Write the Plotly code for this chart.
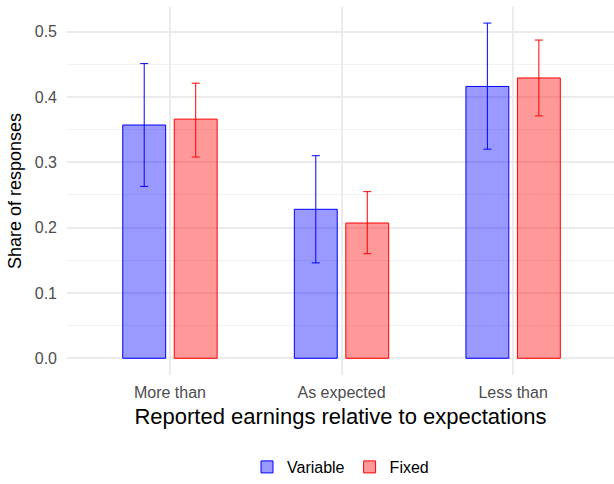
import plotly.graph_objects as go

categories = ["More than", "As expected", "Less than"]
variable_share = [0.357, 0.228, 0.416]
variable_low = [0.263, 0.146, 0.320]
variable_high = [0.451, 0.310, 0.513]
fixed_share = [0.366, 0.207, 0.429]
fixed_low = [0.308, 0.160, 0.371]
fixed_high = [0.421, 0.255, 0.487]
y_ticks = [0.0, 0.1, 0.2, 0.3, 0.4, 0.5]

font_family = "Liberation Sans, Arial, sans-serif"

def err(vals, lo, hi, color):
    return dict(type="data", symmetric=False,
                array=[h - v for v, h in zip(vals, hi)],
                arrayminus=[v - l for v, l in zip(vals, lo)],
                color=color, thickness=1, width=4)

fig = go.Figure()
fig.add_trace(go.Bar(
    x=categories, y=variable_share, name="Variable",
    marker=dict(color="rgba(0,0,255,0.4)", line=dict(color="rgb(0,0,255)", width=1)),
    error_y=err(variable_share, variable_low, variable_high, "rgb(0,0,255)"),
))
fig.add_trace(go.Bar(
    x=categories, y=fixed_share, name="Fixed",
    marker=dict(color="rgba(255,0,0,0.4)", line=dict(color="rgb(255,0,0)", width=1)),
    error_y=err(fixed_share, fixed_low, fixed_high, "rgb(255,0,0)"),
))

fig.update_layout(
    width=614, height=484,
    paper_bgcolor="white", plot_bgcolor="white",
    barmode="group", bargap=0.4, bargroupgap=1/6,
    margin=dict(l=67, r=0, t=7, b=104),
    font=dict(family=font_family, size=16, color="#4d4d4d"),
    showlegend=True,
    legend=dict(orientation="h", x=0.5, xanchor="center", y=-0.25, yanchor="middle",
                font=dict(size=16, color="black"), traceorder="normal"),
    xaxis=dict(
        range=[-0.6, 2.588], showgrid=True, gridcolor="#ebebeb", gridwidth=1.5,
        zeroline=False, showline=False, ticks="", ticklabelstandoff=6,
        tickfont=dict(size=16, color="#4d4d4d"),
        title=dict(text="Reported earnings relative to expectations",
                   font=dict(size=22, color="black"), standoff=8),
    ),
    yaxis=dict(
        range=[-0.0256, 0.5376], tickvals=y_ticks, tickformat=".1f",
        showgrid=True, gridcolor="#ebebeb", gridwidth=1.5,
        minor=dict(dtick=0.05, tick0=0, showgrid=True, gridcolor="#f2f2f2", gridwidth=0.8),
        zeroline=False, showline=False, ticks="", ticklabelstandoff=9,
        tickfont=dict(size=16, color="#4d4d4d"),
        title=dict(text="Share of responses", font=dict(size=18, color="black"), standoff=8),
    ),
)

fig.write_html("out.html", config={"displayModeBar": False},
               post_script="document.body.style.margin='0';")
